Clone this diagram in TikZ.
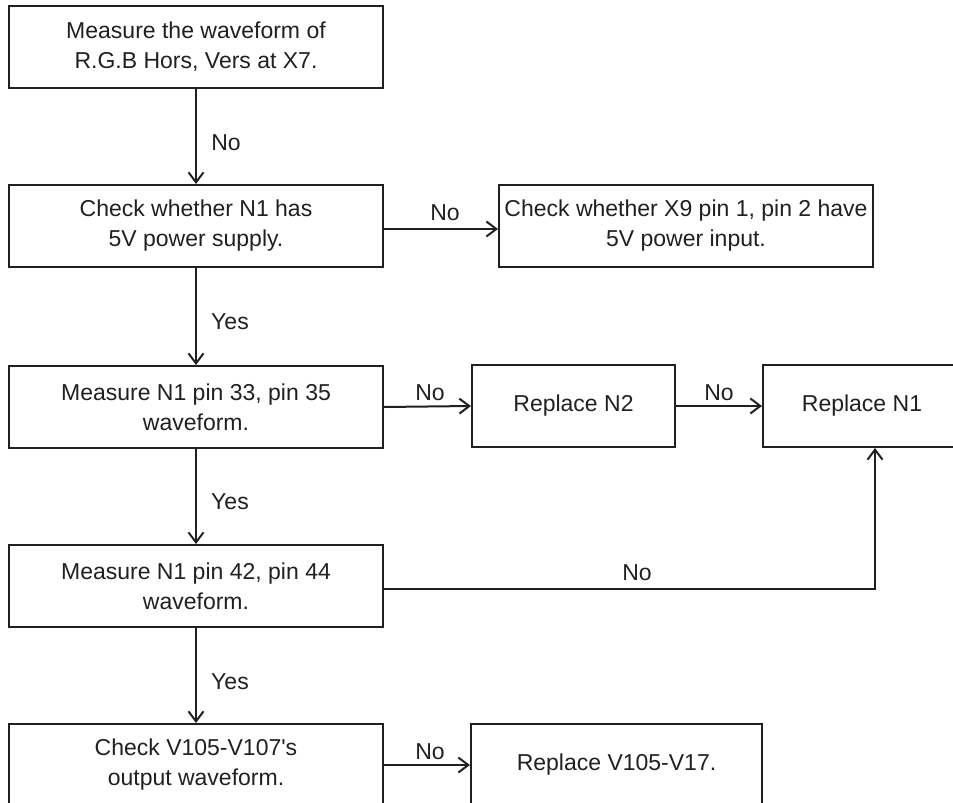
\documentclass[tikz,border=0pt]{standalone}
\usepackage{fontspec}
\setmainfont{Liberation Sans}
\usetikzlibrary{arrows.meta}
\definecolor{ink}{HTML}{231F20}
\begin{document}
\begin{tikzpicture}[x=1pt,y=-1pt,
  box/.style={draw=ink, line width=2pt, minimum height=82pt, align=center, inner sep=0pt,
              font=\fontsize{23}{30}\selectfont, text=ink},
  lbl/.style={font=\fontsize{23}{30}\selectfont, text=ink, inner sep=0pt},
  arr/.style={draw=ink, line width=2pt, -{Straight Barb[length=10pt,width=15pt,line width=2pt]}}]
\useasboundingbox (0,0) rectangle (953,803);
\clip (0,0) rectangle (953,803);
\node[box, minimum width=374pt] (b1) at (196,47) {Measure the waveform of\\R.G.B Hors, Vers at X7.};
\node[box, minimum width=374pt] (b2) at (196,226) {Check whether N1 has\\5V power supply.};
\node[box, minimum width=374pt] (b3) at (686,226) {Check whether X9 pin 1, pin 2 have\\5V power input.};
\node[box, minimum width=374pt] (b4) at (196,407) {Measure N1 pin 33, pin 35\\waveform.};
\node[box, minimum width=203pt] (n2) at (573.5,406) {Replace N2};
\node[box, minimum width=198pt] (n1) at (862,406) {Replace N1};
\node[box, minimum width=374pt] (b5) at (196,586) {Measure N1 pin 42, pin 44\\waveform.};
\node[box, minimum width=374pt] (b6) at (196,765) {Check V105-V107\textquotesingle s\\output waveform.};
\node[box, minimum width=291pt] (v17) at (616.5,765) {Replace V105-V17.};

\draw[arr] (b1.south) -- (b2.north);
\draw[arr] ([yshift=-3pt]b2.east) -- ([yshift=-3pt]b3.west);
\draw[arr] (b2.south) -- (b4.north);
\draw[arr] (b4.east) -- (n2.west);
\draw[arr] (n2.east) -- (n1.west);
\draw[arr] (b4.south) -- (b5.north);
\coordinate (c) at (875,589);
\draw[arr] (b5.east |- c) -- (c) -- (c |- n1.south);
\draw[arr] (b5.south) -- (b6.north);
\draw[arr] (b6.east) -- (v17.west);

\node[lbl] (l1) at (226,143) {No};
\node[lbl] (l2) at (445,213) {No};
\node[lbl] (l3) at (230,322) {Yes};
\node[lbl] (l4) at (430,393) {No};
\node[lbl] (l5) at (719,393) {No};
\node[lbl] (l6) at (230,502) {Yes};
\node[lbl] (l7) at (637,573) {No};
\node[lbl] (l8) at (230,682) {Yes};
\node[lbl] (l9) at (430,752) {No};
\end{tikzpicture}
\end{document}
